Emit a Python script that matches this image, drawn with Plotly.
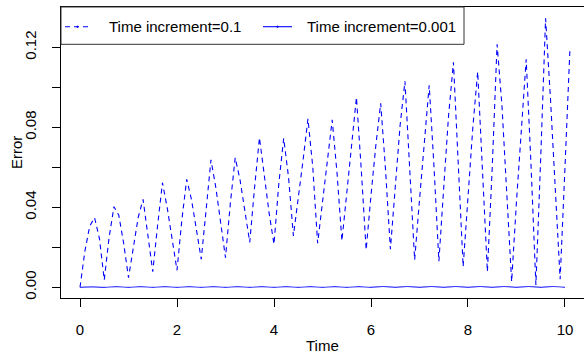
import plotly.graph_objects as go

# Error of the numerical solution sampled with the coarse time step (0.1)
time_coarse = [0.0, 0.1, 0.2, 0.3, 0.4, 0.5, 0.6, 0.7, 0.8, 0.9,
               1.0, 1.1, 1.2, 1.3, 1.4, 1.5, 1.6, 1.7, 1.8, 1.9,
               2.0, 2.1, 2.2, 2.3, 2.4, 2.5, 2.6, 2.7, 2.8, 2.9,
               3.0, 3.1, 3.2, 3.3, 3.4, 3.5, 3.6, 3.7, 3.8, 3.9,
               4.0, 4.1, 4.2, 4.3, 4.4, 4.5, 4.6, 4.7, 4.8, 4.9,
               5.0, 5.1, 5.2, 5.3, 5.4, 5.5, 5.6, 5.7, 5.8, 5.9,
               6.0, 6.1, 6.2, 6.3, 6.4, 6.5, 6.6, 6.7, 6.8, 6.9,
               7.0, 7.1, 7.2, 7.3, 7.4, 7.5, 7.6, 7.7, 7.8, 7.9,
               8.0, 8.1, 8.2, 8.3, 8.4, 8.5, 8.6, 8.7, 8.8, 8.9,
               9.0, 9.1, 9.2, 9.3, 9.4, 9.5, 9.6, 9.7, 9.8, 9.9,
               10.0, 10.1]
error_coarse = [0.0, 0.018, 0.0306, 0.0348, 0.0245, 0.0037, 0.025, 0.0403, 0.036, 0.022,
                0.0048, 0.020, 0.035, 0.044, 0.027, 0.0078, 0.031, 0.0523, 0.0395, 0.025,
                0.0085, 0.0337, 0.054, 0.0437, 0.0295, 0.014, 0.0387, 0.0637, 0.050, 0.032,
                0.0148, 0.042, 0.0648, 0.0537, 0.0387, 0.0225, 0.050, 0.0748, 0.056, 0.037,
                0.0215, 0.052, 0.0745, 0.055, 0.0257, 0.0437, 0.0637, 0.0842, 0.060, 0.022,
                0.0428, 0.0645, 0.0837, 0.057, 0.0232, 0.047, 0.072, 0.095, 0.0587, 0.0187,
                0.046, 0.071, 0.092, 0.0587, 0.019, 0.050, 0.081, 0.103, 0.0587, 0.0137,
                0.0437, 0.0737, 0.101, 0.060, 0.013, 0.050, 0.086, 0.1125, 0.061, 0.0103,
                0.045, 0.080, 0.1078, 0.0595, 0.0078, 0.060, 0.1215, 0.091, 0.048, 0.0028,
                0.043, 0.081, 0.114, 0.061, 0.0012, 0.065, 0.1345, 0.0945, 0.0495, 0.004,
                0.060, 0.118]

# Error with the fine time step (0.001): stays close to zero
time_fine = [0.0, 0.25, 0.5, 0.75, 1.0, 1.25, 1.5, 1.75, 2.0, 2.25,
             2.5, 2.75, 3.0, 3.25, 3.5, 3.75, 4.0, 4.25, 4.5, 4.75,
             5.0, 5.25, 5.5, 5.75, 6.0, 6.25, 6.5, 6.75, 7.0, 7.25,
             7.5, 7.75, 8.0, 8.25, 8.5, 8.75, 9.0, 9.25, 9.5, 9.75, 10.0]
error_fine = [0.0, 0.0002, 0.0, 0.0003, 0.0, 0.0003, 0.0, 0.0003, 0.0, 0.0003,
              0.0, 0.0003, 0.0, 0.0003, 0.0, 0.0003, 0.0, 0.0003, 0.0, 0.0003,
              0.0, 0.0003, 0.0, 0.0003, 0.0, 0.0004, 0.0, 0.0004, 0.0, 0.0004,
              0.0, 0.0004, 0.0, 0.0004, 0.0, 0.0004, 0.0, 0.0004, 0.0, 0.0004, 0.0]

series_names = ["Time increment=0.1", "Time increment=0.001"]

x_ticks = [0, 2, 4, 6, 8, 10]
x_tick_labels = ["0", "2", "4", "6", "8", "10"]
y_ticks = [0.0, 0.02, 0.04, 0.06, 0.08, 0.10, 0.12]
y_tick_labels = ["0.00", "", "0.04", "", "0.08", "", "0.12"]

W, H = 584, 353
ML, MT, MB, MR = 61, 7, 55, 0
FONT = "Liberation Sans, Arial, Helvetica, sans-serif"
BLUE = "#0000ff"

plot_w = W - ML - MR
plot_h = H - MT - MB


def px(xp):
    return (xp - ML) / plot_w


def py(yp):
    return (H - MB - yp) / plot_h


fig = go.Figure()
fig.add_trace(go.Scatter(x=time_coarse, y=error_coarse, mode="lines",
                         name=series_names[0],
                         line=dict(color=BLUE, width=1.1, dash="5px,4px")))
fig.add_trace(go.Scatter(x=time_fine, y=error_fine, mode="lines",
                         name=series_names[1], line_shape="spline",
                         line=dict(color="#3a3aff", width=1.2)))

axis_common = dict(showgrid=False, zeroline=False, ticks="outside", ticklen=8,
                   tickcolor="black", tickwidth=1, linecolor="black", linewidth=1,
                   showline=True,
                   tickfont=dict(family=FONT, size=15, color="black"))

fig.update_xaxes(range=[-0.392, 10.392], tickvals=x_ticks, ticktext=x_tick_labels,
                 mirror=True, ticklabelstandoff=10, **axis_common)
fig.update_yaxes(range=[-0.00535, 0.14015], tickvals=y_ticks, ticktext=y_tick_labels,
                 tickangle=-90, ticklabelstandoff=10, **axis_common)

shapes = []
# legend frame
shapes.append(dict(type="rect", xref="paper", yref="paper",
                   x0=px(61), x1=px(464), y0=py(44.3), y1=py(7),
                   line=dict(color="#333333", width=1), fillcolor="white", layer="above"))
# legend line samples, each with the small point mark in the middle
shapes.append(dict(type="line", xref="paper", yref="paper",
                   x0=px(65), x1=px(91), y0=py(26.7), y1=py(26.7),
                   line=dict(color=BLUE, width=1.1, dash="5px,4px")))
shapes.append(dict(type="line", xref="paper", yref="paper",
                   x0=px(263), x1=px(292), y0=py(26.7), y1=py(26.7),
                   line=dict(color=BLUE, width=1.1)))
for cx in (77.5, 277.5):
    shapes.append(dict(type="circle", xref="paper", yref="paper",
                       x0=px(cx - 0.8), x1=px(cx + 0.8), y0=py(27.5), y1=py(25.9),
                       line=dict(color=BLUE, width=0.6), fillcolor=BLUE))

annotations = [
    dict(text=series_names[0], x=px(107), y=py(26.7), xref="paper", yref="paper",
         xanchor="left", yanchor="middle", showarrow=False,
         font=dict(family=FONT, size=15, color="black")),
    dict(text=series_names[1], x=px(305), y=py(26.7), xref="paper", yref="paper",
         xanchor="left", yanchor="middle", showarrow=False,
         font=dict(family=FONT, size=15, color="black")),
    dict(text="Time", x=px(322.5), y=py(345), xref="paper", yref="paper",
         xanchor="center", yanchor="middle", showarrow=False,
         font=dict(family=FONT, size=15, color="black")),
    dict(text="Error", x=px(16.5), y=py(152.5), xref="paper", yref="paper",
         xanchor="center", yanchor="middle", showarrow=False, textangle=-90,
         font=dict(family=FONT, size=15, color="black")),
]

fig.update_layout(width=W, height=H, margin=dict(l=ML, r=MR, t=MT, b=MB, pad=0),
                  paper_bgcolor="white", plot_bgcolor="white", showlegend=False,
                  shapes=shapes, annotations=annotations,
                  font=dict(family=FONT, size=15, color="black"))

fig.write_html("out.html")
